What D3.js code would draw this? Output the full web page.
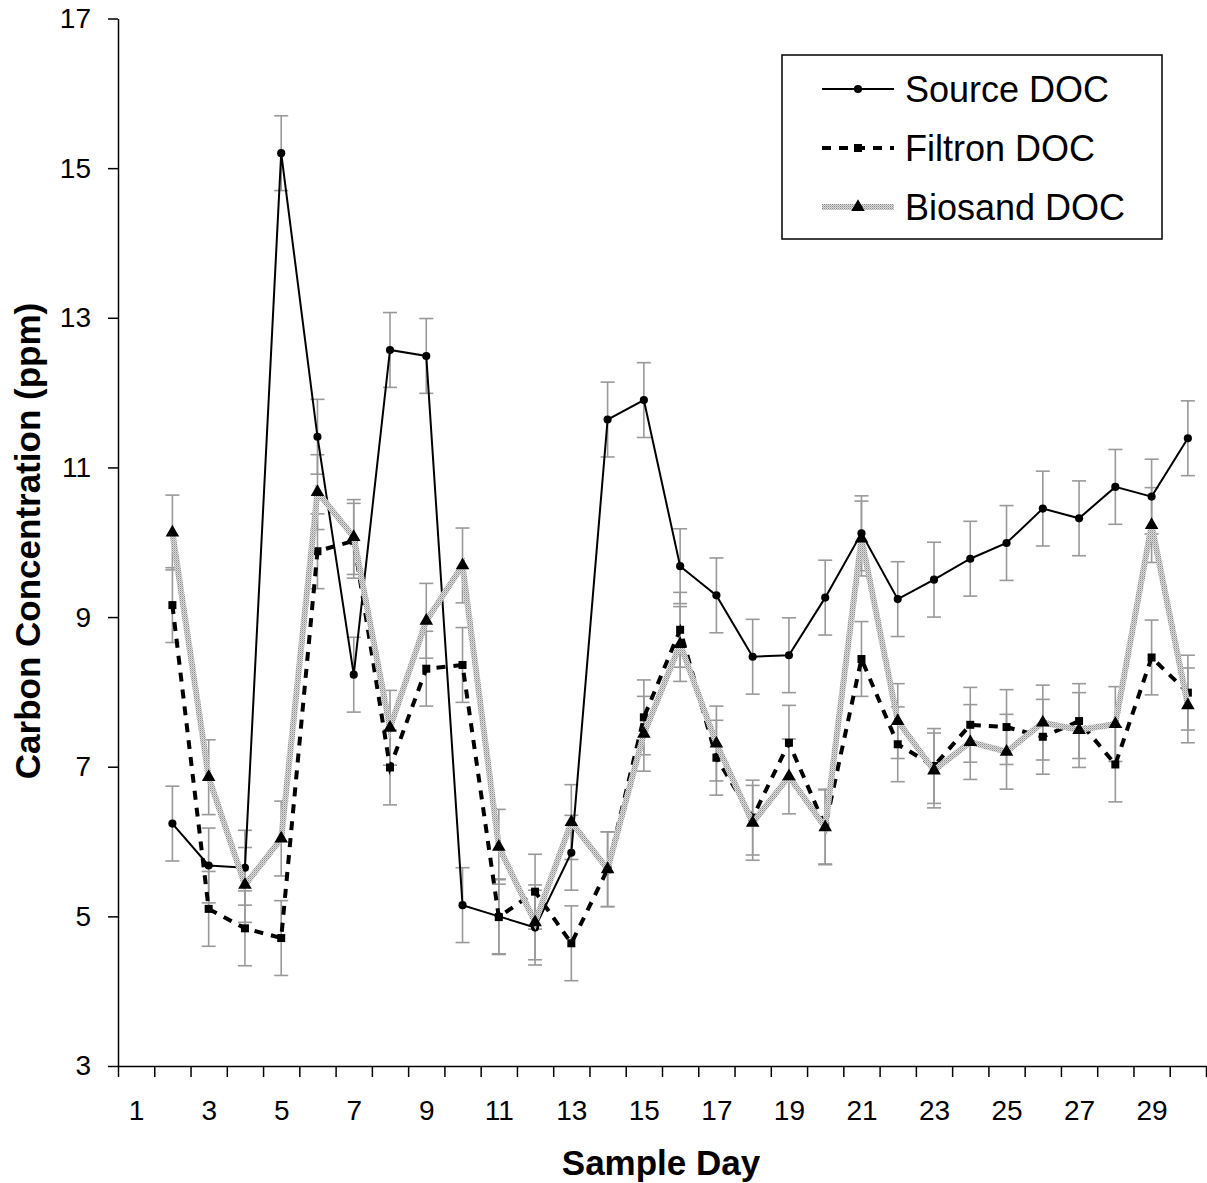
<!DOCTYPE html>
<html>
<head>
<meta charset="utf-8">
<script src="https://cdn.jsdelivr.net/npm/d3@7"></script>
<style>
  body { margin: 0; background: #fff; }
  svg { display: block; font-family: "Liberation Sans", Arial, sans-serif; }
  .axis path, .axis line { stroke: #000; stroke-width: 1.5; }
  .axis text { font-size: 28px; fill: #000; }
</style>
</head>
<body>
<div id="chart"></div>
<script>
var days = d3.range(2, 31);
var source = [6.24, 5.68, 5.65, 15.2, 11.41, 8.23, 12.57, 12.49, 5.15, 5.0, 4.85, 5.85, 11.64, 11.9, 9.68,
              9.29, 8.47, 8.49, 9.26, 10.12, 9.24, 9.5, 9.78, 9.99, 10.45, 10.32, 10.74, 10.61, 11.39];
var filtron = [9.16, 5.1, 4.84, 4.71, 9.88, 10.02, 6.99, 8.31, 8.36, 4.99, 5.33, 4.64, 5.63, 7.66, 8.83,
               7.12, 6.32, 7.32, 6.2, 8.44, 7.3, 7.01, 7.56, 7.53, 7.4, 7.61, 7.03, 8.46, 7.99];
var biosand = [10.13, 6.86, 5.42, 6.04, 10.67, 10.07, 7.52, 8.95, 9.69, 5.93, 4.92, 6.26, 5.63, 7.44, 8.64,
               7.31, 6.25, 6.87, 6.19, 10.05, 7.61, 6.95, 7.33, 7.2, 7.59, 7.49, 7.57, 10.23, 7.82];
var errorValue = 0.5;
var seriesNames = ['Source DOC', 'Filtron DOC', 'Biosand DOC'];
var yTicks = [3, 5, 7, 9, 11, 13, 15, 17];
var xLabels = d3.range(1, 30, 2);

var w = 1207, h = 1183;
var plot = { left: 118, right: 1206, top: 18.5, bottom: 1066 };

var svg = d3.select('#chart').append('svg')
    .attr('width', w)
    .attr('height', h);

// textured grey for the biosand line
var defs = svg.append('defs');
var pat = defs.append('pattern')
    .attr('id', 'sandTex')
    .attr('patternUnits', 'userSpaceOnUse')
    .attr('width', 2).attr('height', 2);
pat.append('rect').attr('width', 2).attr('height', 2).attr('fill', '#dcdcdc');
pat.append('rect').attr('width', 1).attr('height', 1).attr('fill', '#8c8c8c');
pat.append('rect').attr('x', 1).attr('y', 1).attr('width', 1).attr('height', 1).attr('fill', '#b4b4b4');

var x = d3.scaleLinear().domain([0.5, 30.5]).range([plot.left, plot.right]);
var y = d3.scaleLinear().domain([3, 17]).range([plot.bottom, plot.top]);

// axes
svg.append('g')
    .attr('class', 'axis')
    .attr('transform', 'translate(' + plot.left + ',0)')
    .call(d3.axisLeft(y).tickValues(yTicks).tickSizeInner(10).tickSizeOuter(0).tickPadding(17));

svg.append('g')
    .attr('class', 'axis')
    .attr('transform', 'translate(0,' + plot.bottom + ')')
    .call(d3.axisBottom(x).tickValues(d3.range(0.5, 31, 1)).tickFormat('').tickSizeInner(11).tickSizeOuter(0));

var xLab = svg.append('g')
    .attr('class', 'axis')
    .attr('transform', 'translate(0,' + plot.bottom + ')')
    .call(d3.axisBottom(x).tickValues(xLabels).tickSize(0).tickPadding(34));
xLab.select('.domain').remove();

svg.append('text')
    .attr('x', 661).attr('y', 1175)
    .attr('text-anchor', 'middle')
    .style('font-size', '35px').style('font-weight', 'bold')
    .text('Sample Day');

svg.append('text')
    .attr('transform', 'translate(40,541) rotate(-90)')
    .attr('text-anchor', 'middle')
    .style('font-size', '35px').style('font-weight', 'bold')
    .text('Carbon Concentration (ppm)');

var series = [
  { name: seriesNames[0], values: source },
  { name: seriesNames[1], values: filtron },
  { name: seriesNames[2], values: biosand }
];

// error bars
var errG = svg.append('g')
    .attr('stroke', '#999')
    .attr('stroke-width', 1.6)
    .attr('fill', 'none');
series.forEach(function(s) {
  s.values.forEach(function(v, i) {
    var cx = x(days[i]);
    errG.append('line').attr('x1', cx).attr('x2', cx).attr('y1', y(v - errorValue)).attr('y2', y(v + errorValue));
    errG.append('line').attr('x1', cx - 7).attr('x2', cx + 7).attr('y1', y(v + errorValue)).attr('y2', y(v + errorValue));
    errG.append('line').attr('x1', cx - 7).attr('x2', cx + 7).attr('y1', y(v - errorValue)).attr('y2', y(v - errorValue));
  });
});

var line = d3.line()
    .x(function(d, i) { return x(days[i]); })
    .y(function(d) { return y(d); });

var styles = [
  { stroke: '#000', width: 2, dash: null, symbol: d3.symbolCircle, size: 52 },
  { stroke: '#000', width: 4, dash: '9,8', symbol: d3.symbolSquare, size: 64 },
  { stroke: 'url(#sandTex)', width: 6, dash: null, symbol: d3.symbolTriangle, size: 80 }
];

series.forEach(function(s, k) {
  var st = styles[k];
  svg.append('path')
      .datum(s.values)
      .attr('fill', 'none')
      .attr('stroke', st.stroke)
      .attr('stroke-width', st.width)
      .attr('stroke-dasharray', st.dash)
      .attr('stroke-linejoin', 'miter')
      .attr('d', line);
  svg.append('g').selectAll('path')
      .data(s.values)
      .enter().append('path')
      .attr('transform', function(d, i) { return 'translate(' + x(days[i]) + ',' + y(d) + ')'; })
      .attr('d', d3.symbol().type(st.symbol).size(st.size))
      .attr('fill', '#000');
});

// legend
var legend = svg.append('g');
legend.append('rect')
    .attr('x', 782).attr('y', 55)
    .attr('width', 380).attr('height', 184)
    .attr('fill', '#fff')
    .attr('stroke', '#000')
    .attr('stroke-width', 1.5);
series.forEach(function(s, k) {
  var st = styles[k];
  var ly = 89 + k * 59;
  legend.append('line')
      .attr('x1', 822).attr('x2', 894).attr('y1', ly).attr('y2', ly)
      .attr('stroke', st.stroke)
      .attr('stroke-width', st.width)
      .attr('stroke-dasharray', st.dash);
  legend.append('path')
      .attr('transform', 'translate(858,' + ly + ')')
      .attr('d', d3.symbol().type(st.symbol).size(st.size))
      .attr('fill', '#000');
  legend.append('text')
      .attr('x', 905).attr('y', ly)
      .attr('dy', '0.36em')
      .style('font-size', '36px')
      .text(s.name);
});
</script>
</body>
</html>
